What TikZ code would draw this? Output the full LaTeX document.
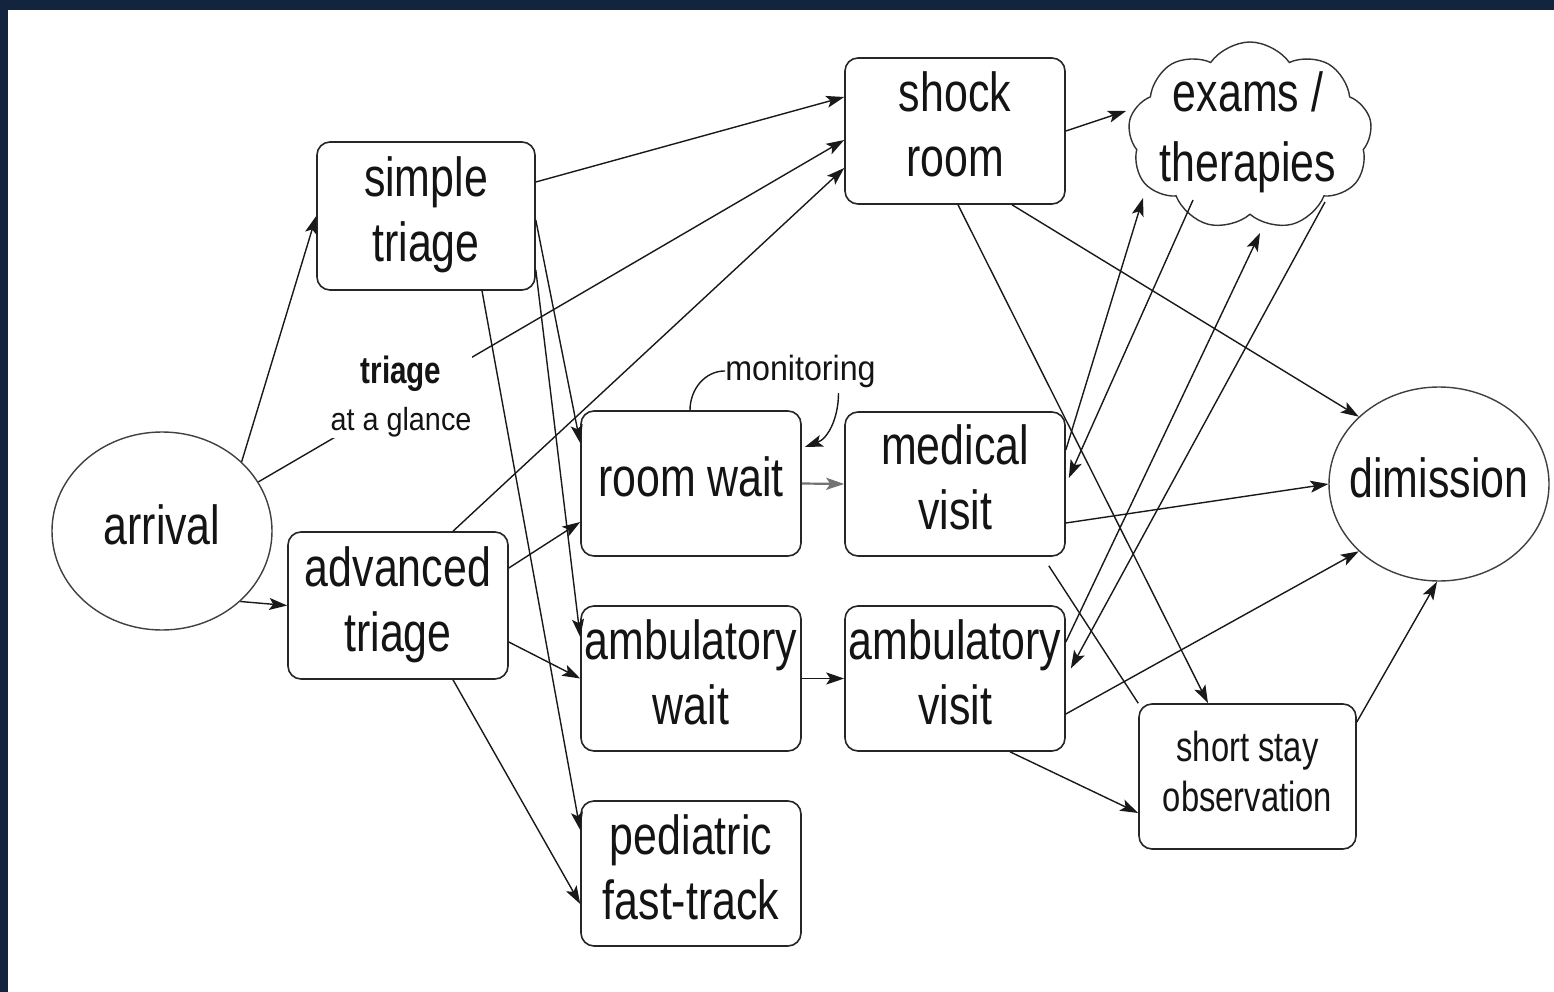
\documentclass[tikz,border=0pt]{standalone}
\usepackage{graphicx}
\usepackage{fontspec}
\setmainfont{Liberation Sans}
\usetikzlibrary{arrows.meta,shapes.geometric,shapes.symbols}
\definecolor{navy}{RGB}{19,36,63}
\newcommand{\bt}[1]{{\fontsize{55}{65}\selectfont\scalebox{0.78}[1]{\begin{tabular}{@{}c@{}}#1\end{tabular}}}}
\newcommand{\ct}[1]{{\fontsize{55}{70}\selectfont\scalebox{0.78}[1]{\begin{tabular}{@{}c@{}}#1\end{tabular}}}}
\newcommand{\st}[1]{{\fontsize{42}{50}\selectfont\scalebox{0.78}[1]{\begin{tabular}{@{}c@{}}#1\end{tabular}}}}
\begin{document}
\begin{tikzpicture}[x=1pt,y=1pt,
  box/.style={draw=black!85, line width=1.6pt, rounded corners=13pt, minimum width=220pt, minimum height=145pt, inner sep=0pt, text=black!92},
  oval/.style={ellipse, draw=black!75, line width=1.4pt, minimum width=220pt, minimum height=198pt, inner sep=0pt, text=black!92},
  arr/.style={-{Stealth[length=18pt,width=12pt,inset=4pt]}, line width=1.4pt, draw=black!90},
  ln/.style={line width=1.4pt, draw=black!90},
  lbl/.style={inner sep=0pt, text=black!92}]
\fill[navy] (0,0) rectangle (1554,-992);
\fill[white] (8,-10) rectangle (1554,-992);
\useasboundingbox (0,0) rectangle (1554,-992);

% nodes
\node[box, minimum width=218pt, minimum height=148pt] (simple) at (426,-216) {\bt{simple\\triage}};
\node[box, minimum height=146pt] (shock) at (955,-131) {\bt{shock\\room}};
\node[box] (roomwait) at (691,-483.5) {\bt{room wait}};
\node[box, minimum height=144pt] (medical) at (955,-484) {\bt{medical\\visit}};
\node[box] (ambwait) at (691,-678.5) {\bt{ambulatory\\wait}};
\node[box] (ambvisit) at (955,-678.5) {\bt{ambulatory\\visit}};
\node[box] (pediatric) at (691,-873.5) {\bt{pediatric\\fast-track}};
\node[box, minimum height=147pt] (advanced) at (398,-605.5) {\bt{advanced\\triage}};
\node[box, minimum width=217pt] (short) at (1247.5,-776.5) {\st{short stay\\observation}};
\node[oval] (arrival) at (162,-531) {\makebox[0pt]{\bt{arrival}}};
\node[oval, minimum height=194pt] (dimission) at (1439,-484) {\makebox[0pt]{\bt{dimission}}};
\node[cloud, cloud puffs=9, cloud puff arc=110, aspect=1.3, draw=black!80, line width=1.4pt, minimum width=244pt, minimum height=188pt, inner sep=0pt] (exams) at (1250,-136) {};
\node[lbl] (examstext) at (1248,-133) {\ct{exams /\\therapies}};
\node[lbl, font=\fontsize{35}{40}\selectfont, anchor=base] (mon) at (800.5,-380) {\scalebox{0.92}[1]{monitoring}};

% left edges
\draw[arr] (arrival.41) -- (simple.west);
\draw[arr] (arrival.-42) -- (advanced.west);
\draw[arr] (arrival.27) -- ([yshift=-9pt]shock.west);
\draw[arr] ([yshift=34pt]simple.east) -- ([yshift=34pt]shock.west);
\draw[arr] ([yshift=-4pt]simple.east) -- ([yshift=40.5pt]roomwait.west);
\draw[arr] ([yshift=-54pt]simple.east) -- ([yshift=41.5pt]ambwait.west);
\draw[arr] ([xshift=56pt]simple.south) -- ([yshift=43.5pt]pediatric.west);
\draw[arr] ([xshift=55pt]advanced.north) -- ([yshift=-37pt]shock.west);
\draw[arr] ([yshift=37.5pt]advanced.east) -- ([yshift=-38.5pt]roomwait.west);
\draw[arr] ([yshift=-36.5pt]advanced.east) -- (ambwait.west);
\draw[arr] ([xshift=55pt]advanced.south) -- ([yshift=-30.5pt]pediatric.west);
\draw[arr, draw=black!55, line width=2.2pt] (roomwait.east) -- (medical.west);
\draw[arr] (ambwait.east) -- (ambvisit.west);

% monitoring loop
\draw[ln] ([xshift=-1pt]roomwait.north) to[out=90,in=180] (mon.west);
\draw[arr] ([shift={(38,-13)}]mon.base) to[out=-90,in=20] ([xshift=3pt,yshift=36.5pt]roomwait.east);

% right edges
\draw[arr] (shock.east) -- ([shift={(-124,25)}]exams.center);
\draw[arr] ([xshift=57pt]shock.south) -- (dimission.140);
\draw[arr] ([xshift=3pt]shock.south) -- ([xshift=-39.5pt]short.north);
\draw[arr] ([yshift=-39pt]medical.east) -- (dimission.west);
\draw[arr] ([yshift=-35.5pt]ambvisit.east) -- (dimission.220);
\draw[arr] ([yshift=54.5pt]short.east) -- ([xshift=-2pt]dimission.south);
\draw[arr] ([xshift=55pt]ambvisit.south) -- ([yshift=-36.5pt]short.west);
\draw[ln] ([xshift=-17pt,yshift=-9pt]medical.south east) -- (short.north west);
\draw[arr] ([yshift=34pt]medical.east) -- ([shift={(-107,-62)}]exams.center);
\draw[arr] ([shift={(-57,-64)}]exams.center) -- ([xshift=3pt,yshift=6pt]medical.east);
\draw[arr] ([yshift=36.5pt]ambvisit.east) -- ([shift={(10,-97)}]exams.center);
\draw[arr] ([shift={(75,-66)}]exams.center) -- ([xshift=5pt,yshift=10pt]ambvisit.east);

% label on arrival -> shock room
\node[fill=white, inner sep=1pt, align=center, text=black!92, font=\fontsize{32}{47}\selectfont] (glance) at (401,-396.5) {{\fontsize{38}{47}\selectfont\bfseries\scalebox{0.78}[1]{triage}}\\\scalebox{0.9}[1]{at a glance}};
\end{tikzpicture}
\end{document}
